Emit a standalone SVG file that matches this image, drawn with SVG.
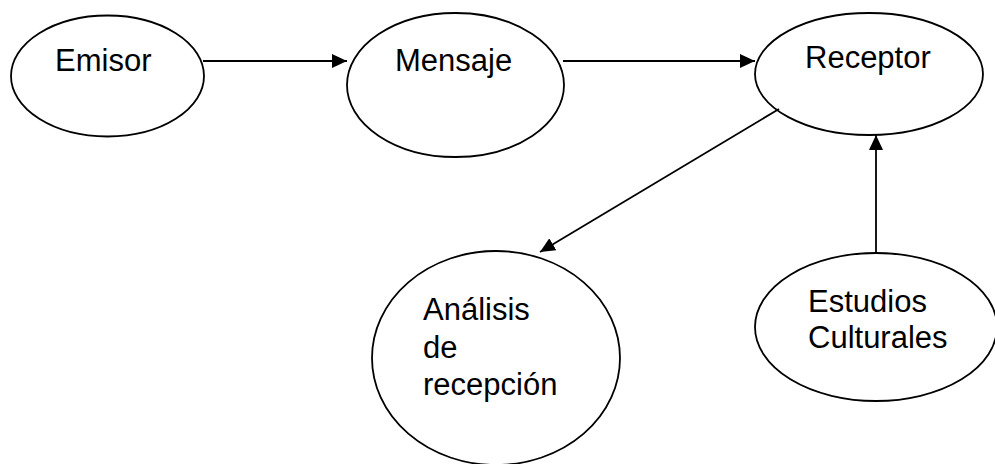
<svg xmlns="http://www.w3.org/2000/svg" width="995" height="464" viewBox="0 0 995 464">
<style>
.n{fill:#fff;stroke:#000;stroke-width:1.8}
.t{font-family:"Liberation Sans",Arial,sans-serif;font-size:31px;fill:#000}
.c{stroke:#000;stroke-width:1.8;fill:none}
</style>
<defs>
<marker id="ah" markerUnits="userSpaceOnUse" markerWidth="15" markerHeight="14" refX="15" refY="7" orient="auto">
<path d="M0,0 L15,7 L0,14 z" fill="#000"/>
</marker>
</defs>
<rect width="995" height="464" fill="#fff"/>
<g id="emisor"><ellipse class="n" cx="107.5" cy="76" rx="96.5" ry="60.5"/><text class="t" x="55" y="71">Emisor</text></g>
<g id="mensaje"><ellipse class="n" cx="455.5" cy="85" rx="108.5" ry="72"/><text class="t" x="395" y="71">Mensaje</text></g>
<g id="receptor"><ellipse class="n" cx="869" cy="74" rx="114" ry="61"/><text class="t" x="805" y="68">Receptor</text></g>
<g id="analisis"><ellipse class="n" cx="496" cy="358" rx="124" ry="107"/><text class="t" x="423" y="320">Análisis</text><text class="t" x="423" y="358">de</text><text class="t" x="423" y="395">recepción</text></g>
<g id="estudios"><ellipse class="n" cx="876" cy="327" rx="121" ry="74"/><text class="t" x="808" y="312">Estudios</text><text class="t" x="808" y="348">Culturales</text></g>
<g id="connectors">
<line class="c" x1="203" y1="61" x2="347" y2="61" marker-end="url(#ah)"/>
<line class="c" x1="563" y1="61" x2="755" y2="61" marker-end="url(#ah)"/>
<line class="c" x1="779" y1="109" x2="540" y2="252" marker-end="url(#ah)"/>
<line class="c" x1="876" y1="253" x2="876" y2="135" marker-end="url(#ah)"/>
</g>
</svg>
